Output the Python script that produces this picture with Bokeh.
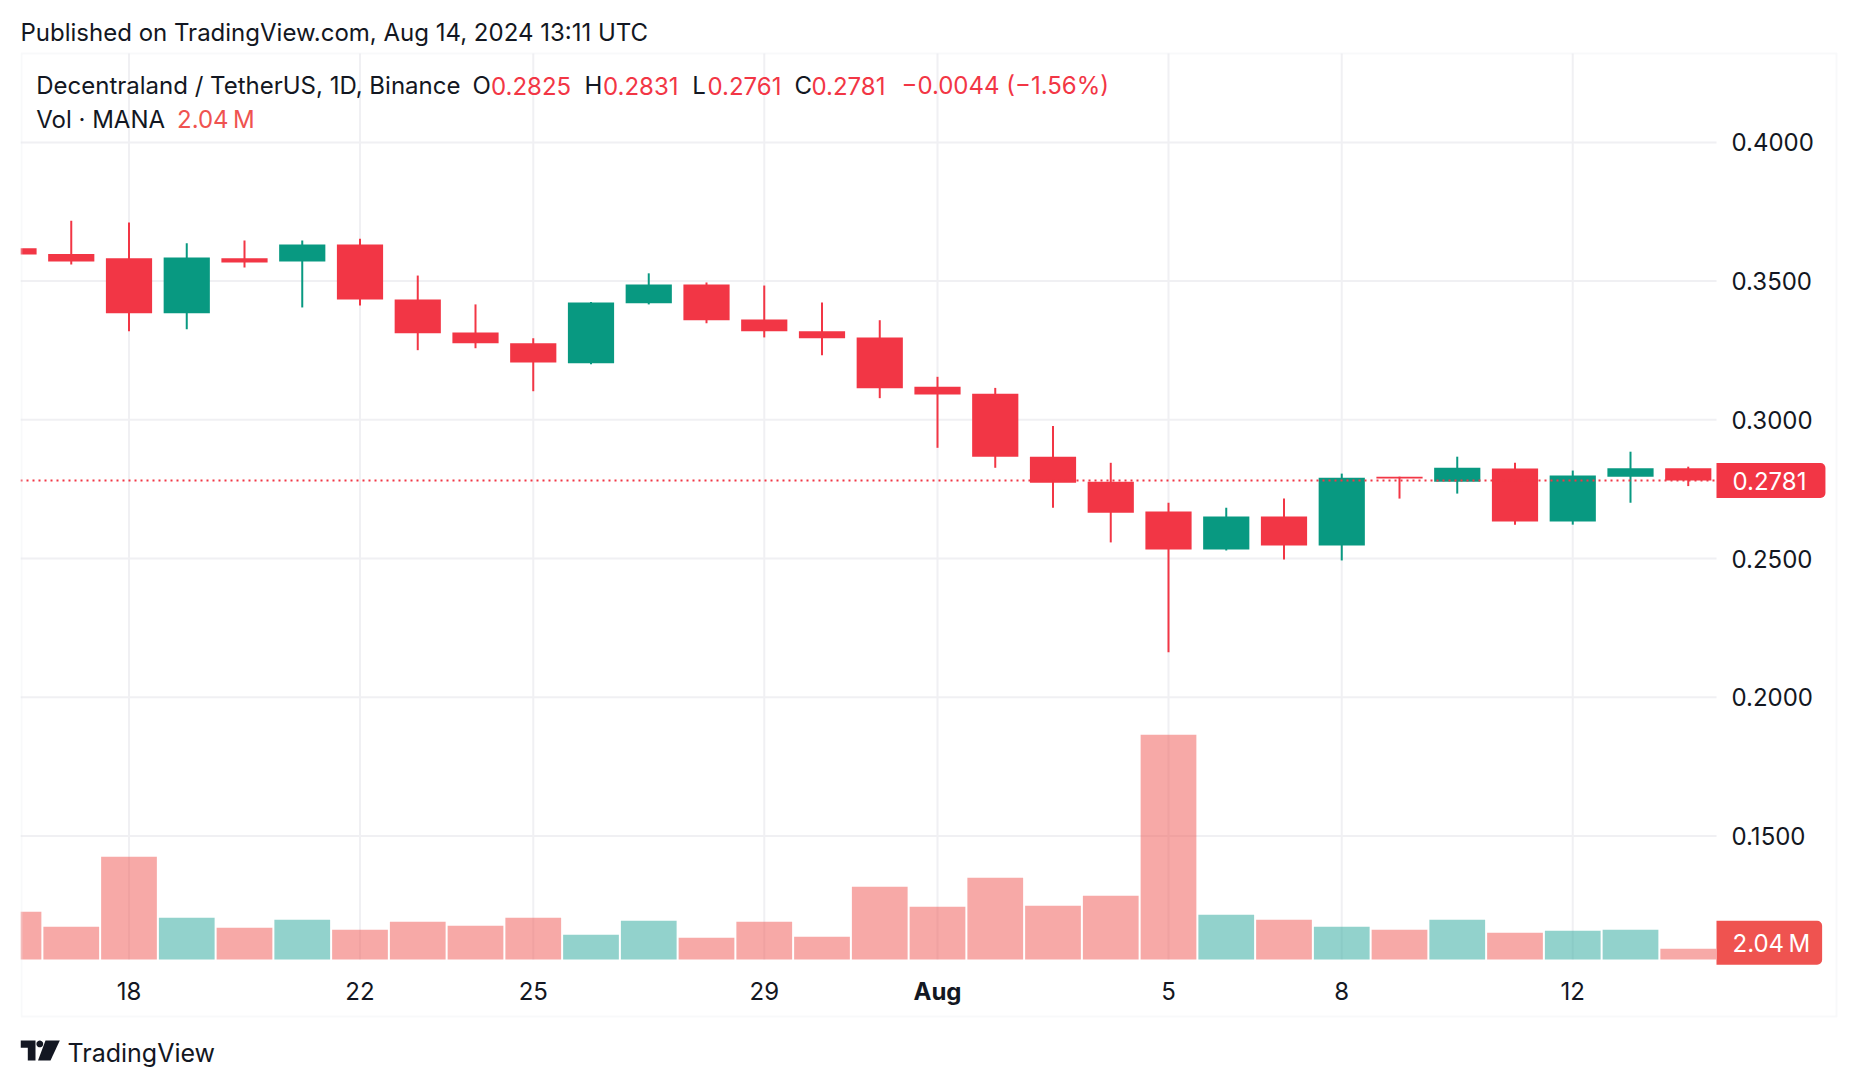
import math
import pandas as pd
from bokeh.plotting import figure
from bokeh.models import (ColumnDataSource, Range1d, Label, BoxAnnotation, PolyAnnotation)
from bokeh.embed import file_html
from bokeh.resources import INLINE

# ---------------- data (MANA/USDT, 1D, Binance) ----------------
dates = pd.date_range("2024-07-16", "2024-08-14", freq="D")
opens = [0.3618, 0.3598, 0.3582, 0.3384, 0.3582, 0.3571, 0.3632, 0.3434, 0.3315, 0.3276,
         0.3204, 0.3420, 0.3488, 0.3362, 0.3319, 0.3297, 0.3119, 0.3094, 0.2867, 0.2777,
         0.2669, 0.2532, 0.2651, 0.2547, 0.2795, 0.2777, 0.2824, 0.2633, 0.2795, 0.2825]
highs = [0.3625, 0.3718, 0.3711, 0.3636, 0.3646, 0.3646, 0.3653, 0.3520, 0.3416, 0.3294,
         0.3425, 0.3528, 0.3495, 0.3484, 0.3423, 0.3359, 0.3155, 0.3115, 0.2978, 0.2845,
         0.2701, 0.2683, 0.2716, 0.2806, 0.2795, 0.2867, 0.2845, 0.2817, 0.2885, 0.2831]
lows = [0.3590, 0.3560, 0.3319, 0.3326, 0.3549, 0.3405, 0.3412, 0.3251, 0.3258, 0.3103,
        0.3200, 0.3416, 0.3348, 0.3297, 0.3233, 0.3078, 0.2899, 0.2827, 0.2683, 0.2558,
        0.2162, 0.2529, 0.2496, 0.2493, 0.2716, 0.2734, 0.2622, 0.2622, 0.2701, 0.2761]
closes = [0.3596, 0.3571, 0.3384, 0.3585, 0.3567, 0.3632, 0.3434, 0.3312, 0.3276, 0.3207,
          0.3423, 0.3488, 0.3359, 0.3319, 0.3294, 0.3114, 0.3091, 0.2867, 0.2773, 0.2665,
          0.2532, 0.2651, 0.2547, 0.2791, 0.2788, 0.2827, 0.2633, 0.2799, 0.2825, 0.2781]
volumes_m = [9.12, 6.25, 19.64, 7.97, 6.06, 7.59, 5.67, 7.20, 6.44, 7.97,
             4.72, 7.40, 4.14, 7.20, 4.34, 13.90, 10.07, 15.62, 10.26, 12.18,
             43.0, 8.54, 7.59, 6.25, 5.67, 7.59, 5.10, 5.48, 5.67, 2.04]

tick_dates = ["2024-07-18", "2024-07-22", "2024-07-25", "2024-07-29",
              "2024-08-01", "2024-08-05", "2024-08-08", "2024-08-12"]
tick_labels = ["18", "22", "25", "29", "Aug", "5", "8", "12"]
price_ticks = [0.15, 0.20, 0.25, 0.30, 0.35, 0.40]

# ---------------- styling / layout ----------------
FONT = "Inter"
DARK = "#131722"
UP, DOWN = "#089981", "#F23645"
VUP, VDOWN = "#26A69A", "#EF5350"
GRID = "#F0F0F3"
BORDER = "#E9EAEF"
W, H = 1856, 1086
OX = 20                      # left margin of the canvas; the drawing frame starts here
DAY = 86400000.0
EPOCH = pd.Timestamp("1970-01-01")


def to_ms(d):
    return float((pd.Timestamp(d) - EPOCH) // pd.Timedelta(milliseconds=1))


# pixel layout of the price pane (canvas pixels)
REF_X, DAY_PX = 128.5, 57.75          # centre of the first labelled day, px per day
P_REF_Y, P_REF, P_PX = 419.3, 0.30, 2774.0   # y of the 0.30 line, px per price unit
VOL_BASE_Y, VOL_PER_PX = 959.0, 0.19125
PANE_L, PANE_R, PANE_T, PANE_B = 20, 1716, 53, 959
ref_ms = to_ms(tick_dates[0])


def xpx(X):
    return ref_ms + (X - REF_X) / DAY_PX * DAY


def ypx(Y):
    return P_REF + (P_REF_Y - Y) / P_PX


def vpx(Y):
    return (VOL_BASE_Y - Y) * VOL_PER_PX


xs = [to_ms(d) for d in dates]
tick_ms = [to_ms(d) for d in tick_dates]
up = [c >= o for o, c in zip(opens, closes)]

src = ColumnDataSource(dict(
    x=xs, open=opens, high=highs, low=lows, close=closes, vol=volumes_m,
    btop=[max(o, c) for o, c in zip(opens, closes)],
    bbot=[min(o, c) for o, c in zip(opens, closes)],
    color=[UP if u else DOWN for u in up],
    vcolor=[VUP if u else VDOWN for u in up],
))

p = figure(width=W, height=H, output_backend="svg", toolbar_location=None,
           x_range=Range1d(xpx(OX), xpx(W)), y_range=Range1d(ypx(H), ypx(0)),
           x_axis_location=None, y_axis_location=None,
           min_border=0, min_border_left=OX)
p.extra_y_ranges = {"vol": Range1d(vpx(H), vpx(0))}
p.outline_line_color = None
p.background_fill_color = "white"
p.border_fill_color = "white"
p.grid.visible = False

AX0, AX1, AY0, AY1 = xpx(PANE_L), xpx(PANE_R), ypx(PANE_B), ypx(PANE_T)

# grid lines inside the price pane
p.segment(x0=tick_ms, x1=tick_ms, y0=[AY0] * len(tick_ms), y1=[AY1] * len(tick_ms),
          line_color=GRID, line_width=2)
p.segment(x0=[AX0] * len(price_ticks), x1=[AX1] * len(price_ticks),
          y0=price_ticks, y1=price_ticks, line_color=GRID, line_width=2)

# volume
p.vbar(x="x", width=0.965 * DAY, top="vol", bottom=0, fill_color="vcolor", fill_alpha=0.5,
       line_color=None, y_range_name="vol", source=src)
# candles
p.segment(x0="x", x1="x", y0="low", y1="high", line_color="color", line_width=2, source=src)
p.vbar(x="x", width=0.8 * DAY, top="btop", bottom="bbot", fill_color="color",
       line_color=None, source=src)

# last price line
p.segment(x0=[AX0], x1=[AX1], y0=[closes[-1]], y1=[closes[-1]], line_color=DOWN,
          line_dash="2 4", line_width=2)

# outer frame
p.add_layout(BoxAnnotation(left=PANE_L + 1 - OX, right=1836 - OX, top=H - 53, bottom=H - 1016,
                           left_units="screen", right_units="screen",
                           top_units="screen", bottom_units="screen",
                           fill_alpha=0, line_color=BORDER, line_width=2))


def txt(s, X, Y, color=DARK, size="24px", style="normal", align="left"):
    """text whose cap-height centre sits at canvas pixel (X, Y)"""
    p.add_layout(Label(x=X - OX, y=H - Y, x_units="screen", y_units="screen", text=s,
                       text_font=FONT, text_font_size=size, text_color=color,
                       text_font_style=style, text_align=align, text_baseline="middle"))


# price scale labels
for t in price_ticks:
    p.add_layout(Label(x=1731 - OX, y=t, x_units="screen", y_units="data", text=f"{t:.4f}",
                       text_font=FONT, text_font_size="24px", text_color=DARK,
                       text_align="left", text_baseline="middle"))
# time scale labels
for t, lab in zip(tick_ms, tick_labels):
    p.add_layout(Label(x=t, y=H - 990.7, x_units="data", y_units="screen", text=lab,
                       text_font=FONT, text_font_size="24px", text_color=DARK,
                       text_font_style="bold" if lab == "Aug" else "normal",
                       text_align="center", text_baseline="middle"))

# price & volume tags (box starts at the pane's right edge)
p.add_layout(Label(x=PANE_R - OX, y=closes[-1], x_units="screen", y_units="data",
                   text=f"{closes[-1]:.4f}", text_font=FONT, text_font_size="24px",
                   text_color="white", text_align="left", text_baseline="middle",
                   background_fill_color=DOWN, border_radius=(0, 5, 5, 0),
                   padding=dict(left=16, right=19, top=9, bottom=8)))
p.add_layout(Label(x=PANE_R - OX, y=volumes_m[-1], x_units="screen", y_units="data",
                   y_range_name="vol", y_offset=6, text=f"{volumes_m[-1]:.2f}\u2009M",
                   text_font=FONT, text_font_size="24px", text_color="white",
                   text_align="left", text_baseline="middle", background_fill_color=VDOWN,
                   border_radius=(0, 5, 5, 0),
                   padding=dict(left=16, right=12, top=8, bottom=7)))

# header
txt("Published on TradingView.com, Aug 14, 2024 13:11 UTC", 20, 31.7)

# legend
o, h, l, c = opens[-1], highs[-1], lows[-1], closes[-1]
chg = c - closes[-2]
pct = chg / closes[-2] * 100
fmt_chg = f"{chg:+.4f}".replace("-", "\u2212")
fmt_pct = f"({pct:+.2f}%)".replace("-", "\u2212")
LY1, LY2 = 85, 119.2
txt("Decentraland / TetherUS, 1D, Binance", 35.7, LY1)
txt("O", 472, LY1)
txt(f"{o:.4f}", 490.5, LY1, DOWN)
txt("H", 584, LY1)
txt(f"{h:.4f}", 602.5, LY1, DOWN)
txt("L", 691.7, LY1)
txt(f"{l:.4f}", 707, LY1, DOWN)
txt("C", 794, LY1)
txt(f"{c:.4f}", 811, LY1, DOWN)
txt(f"{fmt_chg} {fmt_pct}", 901, LY1, DOWN)
txt("Vol \u00b7 MANA", 35.7, LY2)
txt(f"{volumes_m[-1]:.2f}\u2009M", 176.5, LY2, VDOWN)

# footer logo
txt("TradingView", 67, 1052, size="25px")


def poly(pts):
    p.add_layout(PolyAnnotation(xs=[a - OX for a, _ in pts], ys=[H - b for _, b in pts],
                                xs_units="screen", ys_units="screen",
                                fill_color=DARK, fill_alpha=1, line_color=None))


poly([(20, 1040), (35, 1040), (35, 1060), (27.3, 1060), (27.3, 1047.3), (20, 1047.3)])
poly([(39.3 + 3.4 * math.cos(2 * math.pi * k / 20), 1043.4 + 3.4 * math.sin(2 * math.pi * k / 20))
      for k in range(20)])
poly([(45, 1040), (59.3, 1040), (50, 1060), (37.5, 1060)])

open("out.html", "w").write(file_html(p, INLINE))
